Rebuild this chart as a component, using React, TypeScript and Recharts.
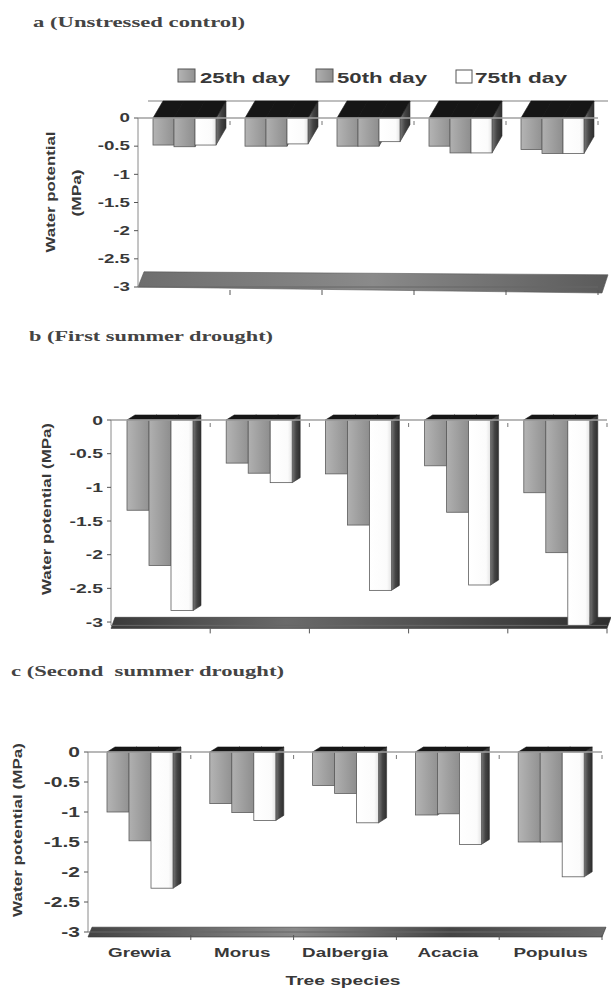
import React from "react";
import { Bar, BarChart, ReferenceArea, XAxis, YAxis } from "recharts";

const species = ["Grewia", "Morus", "Dalbergia", "Acacia", "Populus"];
const yTicks = [0, -0.5, -1, -1.5, -2, -2.5, -3];

// a (Unstressed control)
const controlDay25 = [-0.48, -0.5, -0.5, -0.5, -0.56];
const controlDay50 = [-0.51, -0.5, -0.5, -0.62, -0.63];
const controlDay75 = [-0.48, -0.46, -0.42, -0.62, -0.63];

// b (First summer drought)
const drought1Day25 = [-1.34, -0.64, -0.8, -0.68, -1.08];
const drought1Day50 = [-2.16, -0.79, -1.56, -1.37, -1.97];
const drought1Day75 = [-2.83, -0.93, -2.53, -2.45, -3.05];

// c (Second summer drought)
const drought2Day25 = [-1.0, -0.86, -0.56, -1.05, -1.5];
const drought2Day50 = [-1.48, -1.01, -0.69, -1.03, -1.5];
const drought2Day75 = [-2.27, -1.14, -1.18, -1.54, -2.08];

const SANS = '"Liberation Sans", Arial, sans-serif';
const SERIF = '"Liberation Serif", "Times New Roman", serif';
const INK = "#383838";

const makeRows = (d25: number[], d50: number[], d75: number[]) =>
  species.map((name, i) => ({ name, d25: d25[i], d50: d50[i], d75: d75[i] }));

type Cfg = {
  top: number;
  height: number;
  margin: { top: number; right: number; bottom: number; left: number };
  bottomH: number;
  gap: number;
  dx: number;
  dy: number;
  tickFont: number;
  tickScale: number;
  floor: [number, number];
  floorKind: "slab" | "band";
  floorGrad: string;
  floorExtra: number;
  labels: boolean;
};

function Bar3D(props: any) {
  const { x, y, width, height, fill, dx, dy } = props;
  if (x == null || y == null || !width) return null;
  const top = Math.min(y, y + height);
  const bot = Math.max(y, y + height);
  const r = x + width;
  return (
    <g>
      <polygon
        points={`${r},${top} ${r + dx},${top - dy} ${r + dx},${bot - dy} ${r},${bot}`}
        fill="url(#sideFace)"
        stroke="#333"
        strokeWidth={0.6}
      />
      <polygon
        points={`${x},${top} ${x + dx},${top - dy} ${r + dx},${top - dy} ${r},${top}`}
        fill="#161616"
        stroke="#161616"
        strokeWidth={0.6}
      />
      <rect x={x} y={top} width={width} height={bot - top} fill={fill} stroke="#5c5c5c" strokeWidth={0.8} />
    </g>
  );
}

function YTick(props: any) {
  const { x, y, payload, fs, sx } = props;
  return (
    <g transform={`translate(${x},${y})`}>
      <text
        transform={`scale(${sx},1)`}
        textAnchor="end"
        dominantBaseline="central"
        fontSize={fs}
        fontWeight={700}
        fontFamily={SANS}
        fill={INK}
      >
        {payload.value}
      </text>
    </g>
  );
}

function BottomTick(props: any) {
  const { x, y, payload, half, labels } = props;
  return (
    <g>
      <line x1={x + half} x2={x + half} y1={y + 3} y2={y + 8} stroke="#555" />
      {labels && (
        <g transform={`translate(${x},${y + 25})`}>
          <text
            transform="scale(1.45,1)"
            textAnchor="middle"
            fontSize={13}
            fontWeight={700}
            fontFamily={SANS}
            fill={INK}
          >
            {payload.value}
          </text>
        </g>
      )}
    </g>
  );
}

function TopTick(props: any) {
  const { x, y, half } = props;
  return <line x1={x + half} x2={x + half} y1={y + 3} y2={y + 7} stroke="#777" />;
}

function Floor(props: any) {
  const { x, y, width, height, kind, extra, grad } = props;
  if (x == null) return null;
  const w = width;
  const h = height + extra;
  if (kind === "slab") {
    return (
      <polygon
        points={`${x},${y + h} ${x + 6},${y} ${x + w + 10},${y + 3} ${x + w + 4},${y + h + 6}`}
        fill={grad}
        stroke="#555"
        strokeWidth={0.6}
      />
    );
  }
  return (
    <polygon
      points={`${x},${y + h} ${x + 4},${y} ${x + w + 4},${y} ${x + w},${y + h}`}
      fill={grad}
      stroke="#333"
      strokeWidth={0.6}
    />
  );
}

function BackLine(props: any) {
  const { x, y, width, dx, dy } = props;
  if (x == null) return null;
  return <line x1={x + dx} x2={x + width + 10} y1={y - dy} y2={y - dy} stroke="#aaa" strokeWidth={1.5} />;
}

function Panel({ cfg, rows }: { cfg: Cfg; rows: any[] }) {
  const plotW = 611 - cfg.margin.left - 50 - cfg.margin.right;
  const half = plotW / species.length / 2;
  const shape = (p: any) => <Bar3D {...p} dx={cfg.dx} dy={cfg.dy} />;
  return (
    <div style={{ position: "absolute", left: 0, top: cfg.top }}>
      <BarChart
        width={611}
        height={cfg.height}
        data={rows}
        margin={cfg.margin}
        barCategoryGap={cfg.gap}
        barGap={0}
      >
        <XAxis
          xAxisId="top"
          orientation="top"
          dataKey="name"
          height={1}
          interval={0}
          axisLine={{ stroke: "#a0a0a0", strokeWidth: 1.5 }}
          tickLine={false}
          tickSize={0}
          tickMargin={0}
          tick={(p: any) => <TopTick {...p} half={half} />}
        />
        <XAxis
          dataKey="name"
          height={cfg.bottomH}
          interval={0}
          axisLine={{ stroke: "#666" }}
          tickLine={false}
          tickSize={0}
          tickMargin={0}
          tick={(p: any) => <BottomTick {...p} half={half} labels={cfg.labels} />}
        />
        <YAxis
          type="number"
          domain={[(m: number) => Math.min(m, -3), 0]}
          ticks={yTicks}
          interval={0}
          width={50}
          tickSize={4}
          tickMargin={4}
          axisLine={{ stroke: "#8a8a8a" }}
          tickLine={{ stroke: "#555" }}
          tick={(p: any) => <YTick {...p} fs={cfg.tickFont} sx={cfg.tickScale} />}
        />
        <ReferenceArea
          y1={cfg.floor[0]}
          y2={cfg.floor[1]}
          ifOverflow="visible"
          shape={(p: any) => <Floor {...p} kind={cfg.floorKind} extra={cfg.floorExtra} grad={cfg.floorGrad} />}
        />
        {cfg.floorKind === "slab" && (
          <ReferenceArea
            y1={-0.05}
            y2={0}
            ifOverflow="visible"
            shape={(p: any) => <BackLine {...p} dx={cfg.dx} dy={cfg.dy} />}
          />
        )}
        <Bar dataKey="d25" name="25th day" fill="url(#face25)" isAnimationActive={false} shape={shape} />
        <Bar dataKey="d50" name="50th day" fill="url(#face50)" isAnimationActive={false} shape={shape} />
        <Bar dataKey="d75" name="75th day" fill="url(#face75)" isAnimationActive={false} shape={shape} />
      </BarChart>
    </div>
  );
}

const panelA: Cfg = {
  top: 0,
  height: 300,
  margin: { top: 117, right: 13, bottom: 3, left: 88 },
  bottomH: 10,
  gap: 15,
  dx: 10,
  dy: 17,
  tickFont: 12.5,
  tickScale: 1.5,
  floor: [-3, -2.73],
  floorKind: "slab",
  floorGrad: "url(#floorA)",
  floorExtra: 0,
  labels: false,
};

const panelB: Cfg = {
  top: 330,
  height: 310,
  margin: { top: 89, right: 4, bottom: 4.6, left: 61 },
  bottomH: 10,
  gap: 16,
  dx: 8,
  dy: 5,
  tickFont: 12.5,
  tickScale: 1.55,
  floor: [-3.05, -2.93],
  floorKind: "band",
  floorGrad: "url(#floorB)",
  floorExtra: 3,
  labels: false,
};

const panelC: Cfg = {
  top: 660,
  height: 332,
  margin: { top: 91, right: 9, bottom: 20, left: 38 },
  bottomH: 40,
  gap: 19,
  dx: 8,
  dy: 5,
  tickFont: 14,
  tickScale: 1.5,
  floor: [-3, -2.92],
  floorKind: "band",
  floorGrad: "url(#floorC)",
  floorExtra: 5,
  labels: true,
};

const txt = { fontFamily: SANS, fontWeight: 700, fill: INK } as const;
const ttl = { fontFamily: SERIF, fontWeight: 700, fill: "#444", fontSize: 14 } as const;

export default function App() {
  return (
    <div
      style={{ position: "absolute", left: 0, top: 0, width: 611, height: 992, background: "#fff", overflow: "hidden" }}
    >
      <svg width={0} height={0} style={{ position: "absolute" }}>
        <defs>
          <linearGradient id="face25" x1="0" y1="0" x2="1" y2="0">
            <stop offset="0" stopColor="#b4b4b4" />
            <stop offset="1" stopColor="#929292" />
          </linearGradient>
          <linearGradient id="face50" x1="0" y1="0" x2="1" y2="0">
            <stop offset="0" stopColor="#b0b0b0" />
            <stop offset="1" stopColor="#8e8e8e" />
          </linearGradient>
          <linearGradient id="face75" x1="0" y1="0" x2="1" y2="0">
            <stop offset="0" stopColor="#ffffff" />
            <stop offset="0.8" stopColor="#fbfbfb" />
            <stop offset="1" stopColor="#e4e4e4" />
          </linearGradient>
          <linearGradient id="sideFace" x1="0" y1="0" x2="1" y2="0">
            <stop offset="0" stopColor="#777" />
            <stop offset="0.5" stopColor="#444" />
            <stop offset="1" stopColor="#2e2e2e" />
          </linearGradient>
          <linearGradient id="floorA" x1="0" y1="0" x2="1" y2="0">
            <stop offset="0" stopColor="#6e6e6e" />
            <stop offset="0.5" stopColor="#8a8a8a" />
            <stop offset="1" stopColor="#5a5a5a" />
          </linearGradient>
          <linearGradient id="floorB" x1="0" y1="0" x2="1" y2="0">
            <stop offset="0" stopColor="#3a3a3a" />
            <stop offset="0.35" stopColor="#6a6a6a" />
            <stop offset="0.7" stopColor="#4a4a4a" />
            <stop offset="1" stopColor="#2e2e2e" />
          </linearGradient>
          <linearGradient id="floorC" x1="0" y1="0" x2="1" y2="0">
            <stop offset="0" stopColor="#444" />
            <stop offset="0.4" stopColor="#8a8a8a" />
            <stop offset="0.7" stopColor="#444" />
            <stop offset="1" stopColor="#6a6a6a" />
          </linearGradient>
        </defs>
      </svg>

      <Panel cfg={panelA} rows={makeRows(controlDay25, controlDay50, controlDay75)} />
      <Panel cfg={panelB} rows={makeRows(drought1Day25, drought1Day50, drought1Day75)} />
      <Panel cfg={panelC} rows={makeRows(drought2Day25, drought2Day50, drought2Day75)} />

      <svg width={611} height={992} style={{ position: "absolute", left: 0, top: 0, pointerEvents: "none" }}>
        {/* panel titles */}
        <text x={33} y={27} {...ttl} textLength={212} lengthAdjust="spacingAndGlyphs">
          a (Unstressed control)
        </text>
        <text x={29} y={341} {...ttl} textLength={244} lengthAdjust="spacingAndGlyphs">
          b (First summer drought)
        </text>
        <text x={11} y={676} {...ttl} textLength={273} lengthAdjust="spacingAndGlyphs" style={{ whiteSpace: "pre" }}>
          c (Second  summer drought)
        </text>

        {/* legend */}
        <rect x={178} y={69} width={17} height={13} fill="url(#face25)" stroke="#555" />
        <text x={200} y={83} fontSize={15} {...txt} textLength={90} lengthAdjust="spacingAndGlyphs">
          25th day
        </text>
        <rect x={316} y={69} width={17} height={13} fill="url(#face50)" stroke="#555" />
        <text x={337} y={83} fontSize={15} {...txt} textLength={90} lengthAdjust="spacingAndGlyphs">
          50th day
        </text>
        <rect x={456} y={70} width={16} height={13} fill="#fff" stroke="#555" />
        <text x={475} y={83} fontSize={15} {...txt} textLength={92} lengthAdjust="spacingAndGlyphs">
          75th day
        </text>

        {/* y axis titles */}
        <text
          transform="rotate(-90 51 192)"
          x={51}
          y={192}
          textAnchor="middle"
          dominantBaseline="central"
          fontSize={12.5}
          {...txt}
          textLength={121}
          lengthAdjust="spacingAndGlyphs"
        >
          Water potential
        </text>
        <text
          transform="rotate(-90 77 193)"
          x={77}
          y={193}
          textAnchor="middle"
          dominantBaseline="central"
          fontSize={12.5}
          {...txt}
          textLength={47}
          lengthAdjust="spacingAndGlyphs"
        >
          (MPa)
        </text>
        <text
          transform="rotate(-90 47 509)"
          x={47}
          y={509}
          textAnchor="middle"
          dominantBaseline="central"
          fontSize={12.5}
          {...txt}
          textLength={172}
          lengthAdjust="spacingAndGlyphs"
        >
          Water potential (MPa)
        </text>
        <text
          transform="rotate(-90 18 830)"
          x={18}
          y={830}
          textAnchor="middle"
          dominantBaseline="central"
          fontSize={12.5}
          {...txt}
          textLength={174}
          lengthAdjust="spacingAndGlyphs"
        >
          Water potential (MPa)
        </text>

        {/* x axis title */}
        <text x={343} y={985} textAnchor="middle" fontSize={13} {...txt} textLength={115} lengthAdjust="spacingAndGlyphs">
          Tree species
        </text>
      </svg>
    </div>
  );
}
